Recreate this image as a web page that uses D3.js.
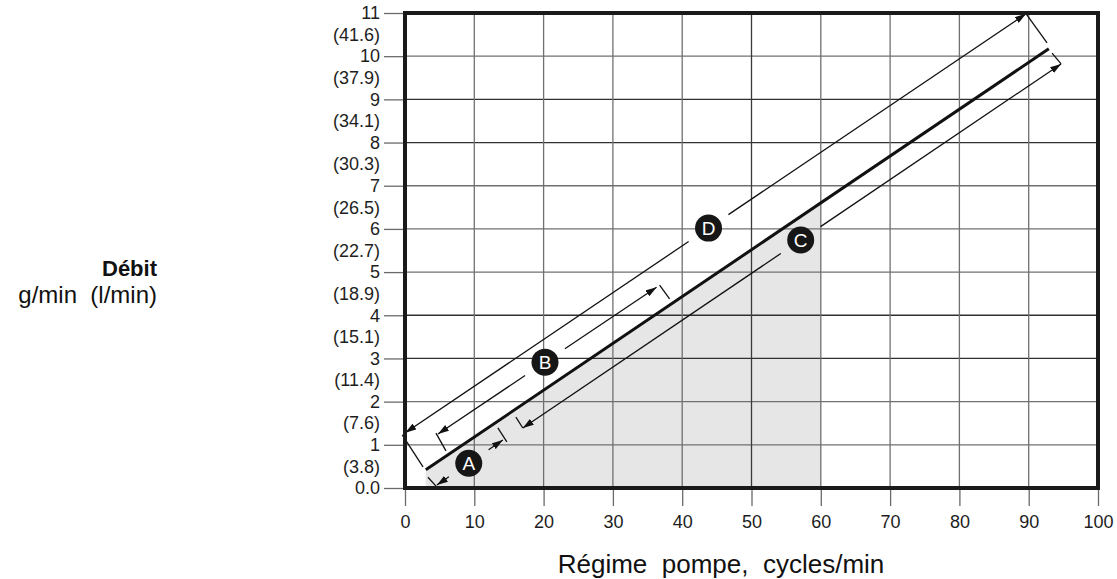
<!DOCTYPE html>
<html><head><meta charset="utf-8">
<script src="https://cdn.jsdelivr.net/npm/d3@7"></script>
<style>body{margin:0;background:#fff} svg{display:block} text{font-family:"Liberation Sans",Arial,Helvetica,sans-serif}</style>
</head><body>
<svg id="c" width="1117" height="579"></svg>
<script>
// ---- data ----
const xTicks = [0,10,20,30,40,50,60,70,80,90,100];
const yTicks = [0,1,2,3,4,5,6,7,8,9,10,11];
const yTickLabels = ["0.0","1","2","3","4","5","6","7","8","9","10","11"];
const litrePos = [0.5,1.5,2.5,3.5,4.5,5.5,6.5,7.5,8.5,9.5,10.5];
const litreLabels = ["(3.8)","(7.6)","(11.4)","(15.1)","(18.9)","(22.7)","(26.5)","(30.3)","(34.1)","(37.9)","(41.6)"];
const flowLine = [[3.0,0.42],[92.9,10.17]];
const shadeMaxX = 60;
const dimNames = ["A","B","C","D"];
const dimStart = [[4.61,0.07],[4.76,1.25],[17.0,1.39],[0.05,1.28]];
const dimEnd = [[14.12,1.11],[36.3,4.65],[94.67,9.82],[89.6,10.98]];
const dimLabelX = [9.2,20.2,57.1,43.8];
const guideLines = [
  [[-0.4,1.23],[2.6,0.49]], [[3.31,0.25],[4.61,0.02]],
  [[89.63,10.98],[92.65,10.31]], [[93.37,10.07],[94.67,9.82]],
  [[4.47,1.27],[5.91,0.86]], [[36.74,4.70],[38.18,4.38]],
  [[13.40,1.39],[14.70,1.07]], [[16.0,1.64],[17.0,1.39]]
];
const xTitle = "Régime  pompe,  cycles/min";
const yTitle1 = "Débit";
const yTitle2 = "g/min  (l/min)";

// ---- chart ----
const svg = d3.select("#c");
const x = d3.scaleLinear().domain([0,100]).range([405,1098]);
const y = d3.scaleLinear().domain([0,11]).range([488,13]);

svg.append("defs").append("marker")
  .attr("id","arr").attr("viewBox","0 0 11 7").attr("refX",11).attr("refY",3.5)
  .attr("markerWidth",11).attr("markerHeight",7).attr("markerUnits","userSpaceOnUse")
  .attr("orient","auto-start-reverse")
  .append("path").attr("d","M0,0 L11,3.5 L0,7 Z").attr("fill","#111");

// shaded area
const lineAt = v => flowLine[0][1] + (v-flowLine[0][0])*(flowLine[1][1]-flowLine[0][1])/(flowLine[1][0]-flowLine[0][0]);
const shade = [[flowLine[0][0],0],[flowLine[0][0],flowLine[0][1]],[shadeMaxX,lineAt(shadeMaxX)],[shadeMaxX,0]];
svg.append("path").attr("d", d3.line().x(d=>x(d[0])).y(d=>y(d[1]))(shade)+"Z").attr("fill","#e6e6e6");

// grid
const darkY = new Set([3,4,8,9]);
const darkX = new Set([50]);
svg.append("g").selectAll("line").data(yTicks.filter(v=>v>0&&v<11)).join("line")
  .attr("x1",x(0)).attr("x2",x(100)).attr("y1",d=>y(d)).attr("y2",d=>y(d))
  .attr("stroke",d=>darkY.has(d)?"#303030":"#707070").attr("stroke-width",1.3);
svg.append("g").selectAll("line").data(xTicks.filter(v=>v>0&&v<100)).join("line")
  .attr("x1",d=>x(d)).attr("x2",d=>x(d)).attr("y1",y(0)).attr("y2",y(11))
  .attr("stroke",d=>darkX.has(d)?"#3a3a3a":"#707070").attr("stroke-width",1.3);

// axes
const ax = svg.append("g").attr("transform",`translate(0,${y(0)})`)
  .call(d3.axisBottom(x).tickValues(xTicks).tickSize(18).tickPadding(9).tickFormat(d3.format("d")));
const ay = svg.append("g").attr("transform",`translate(${x(0)},0)`)
  .call(d3.axisLeft(y).tickValues(yTicks).tickSize(21).tickPadding(4).tickFormat((d,i)=>yTickLabels[i]));
const ay2 = svg.append("g").attr("transform",`translate(${x(0)},0)`)
  .call(d3.axisLeft(y).tickValues(litrePos).tickSize(0).tickPadding(25).tickFormat((d,i)=>litreLabels[i]));
[ax,ay,ay2].forEach(g=>{
  g.select(".domain").remove();
  g.selectAll(".tick line").attr("stroke","#6a6a6a").attr("stroke-width",1.3);
  g.selectAll("text").attr("font-size",18).attr("fill","#1e1e1e")
    .style("font-family","'Liberation Sans',Arial,sans-serif");
});

// main flow line
svg.append("path").attr("d",d3.line().x(d=>x(d[0])).y(d=>y(d[1]))(flowLine))
  .attr("stroke","#111").attr("stroke-width",3).attr("fill","none");

// guide/extension lines
svg.append("g").selectAll("line").data(guideLines).join("line")
  .attr("x1",d=>x(d[0][0])).attr("y1",d=>y(d[0][1]))
  .attr("x2",d=>x(d[1][0])).attr("y2",d=>y(d[1][1]))
  .attr("stroke","#111").attr("stroke-width",1.3);

// dimension arrows with labels
const gap = 24;
dimNames.forEach((nm,i)=>{
  const p0=[x(dimStart[i][0]),y(dimStart[i][1])], p1=[x(dimEnd[i][0]),y(dimEnd[i][1])];
  const dx=p1[0]-p0[0], dy=p1[1]-p0[1], L=Math.hypot(dx,dy), ux=dx/L, uy=dy/L;
  const t=(x(dimLabelX[i])-p0[0])/dx;
  const c=[p0[0]+dx*t,p0[1]+dy*t];
  const g=svg.append("g");
  g.append("line").attr("x1",c[0]-ux*gap).attr("y1",c[1]-uy*gap).attr("x2",p0[0]).attr("y2",p0[1])
    .attr("stroke","#111").attr("stroke-width",1.3).attr("marker-end","url(#arr)");
  g.append("line").attr("x1",c[0]+ux*gap).attr("y1",c[1]+uy*gap).attr("x2",p1[0]).attr("y2",p1[1])
    .attr("stroke","#111").attr("stroke-width",1.3).attr("marker-end","url(#arr)");
  g.append("circle").attr("cx",c[0]).attr("cy",c[1]).attr("r",13.5).attr("fill","#161616");
  g.append("text").attr("x",c[0]).attr("y",c[1]).attr("dy","0.36em").attr("text-anchor","middle")
    .attr("font-size",19).attr("fill","#fff").text(nm);
});

// frame
svg.append("rect").attr("x",x(0)).attr("y",y(11)).attr("width",x(100)-x(0)).attr("height",y(0)-y(11))
  .attr("fill","none").attr("stroke","#1a1a1a").attr("stroke-width",4);

// titles
svg.append("text").attr("x",721).attr("y",573).attr("text-anchor","middle").attr("font-size",26)
  .attr("fill","#111").style("white-space","pre").text(xTitle);
svg.append("text").attr("x",157).attr("y",276).attr("text-anchor","end").attr("font-size",22)
  .attr("font-weight","bold").attr("fill","#111").text(yTitle1);
svg.append("text").attr("x",157).attr("y",303).attr("text-anchor","end").attr("font-size",24)
  .attr("fill","#111").style("white-space","pre").text(yTitle2);
</script>
</body></html>
